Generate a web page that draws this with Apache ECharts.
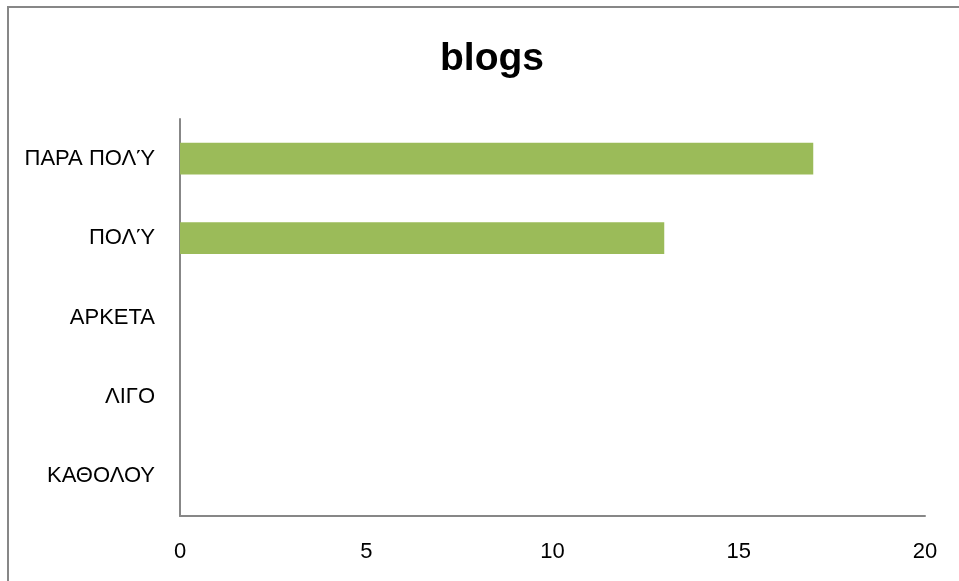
<!DOCTYPE html>
<html>
<head>
<meta charset="utf-8">
<script src="https://cdn.jsdelivr.net/npm/echarts@6/dist/echarts.min.js"></script>
<style>
  html, body { margin: 0; padding: 0; background: #fff; }
  #chart { width: 959px; height: 581px; }
</style>
</head>
<body>
<div id="chart"></div>
<script>
// Response categories, bottom to top
const categories = ['ΚΑΘΟΛΟΥ', 'ΛΙΓΟ', 'ΑΡΚΕΤΑ', 'ΠΟΛΎ', 'ΠΑΡΑ ΠΟΛΎ'];
// Number of answers per category
const counts = [0, 0, 0, 13, 17];
// Value axis ticks
const xTicks = [0, 5, 10, 15, 20];

const chart = echarts.init(document.getElementById('chart'), null, { renderer: 'canvas' });

const labelFont = { fontFamily: 'Liberation Sans, Arial, sans-serif', fontSize: 22, color: '#000' };

chart.setOption({
  animation: false,
  backgroundColor: '#fff',
  title: {
    text: 'blogs',
    left: 487,
    textAlign: 'center',
    top: 35,
    textStyle: { fontFamily: 'Liberation Sans, Arial, sans-serif', fontWeight: 'bold', fontSize: 39, color: '#000' }
  },
  graphic: [{
    type: 'rect',
    shape: { x: 8, y: 7, width: 1000, height: 1000 },
    style: { fill: 'none', stroke: '#878787', lineWidth: 2 },
    silent: true
  }],
  grid: { left: 180, right: 34, top: 119, bottom: 65, containLabel: false },
  xAxis: {
    type: 'value',
    min: xTicks[0],
    max: xTicks[xTicks.length - 1],
    interval: xTicks[1] - xTicks[0],
    axisLine: { show: true, lineStyle: { color: '#878787', width: 2 } },
    axisTick: { show: false },
    splitLine: { show: false },
    axisLabel: Object.assign({ margin: 25 }, labelFont)
  },
  yAxis: {
    type: 'category',
    data: categories,
    axisLine: { show: true, lineStyle: { color: '#878787', width: 2 } },
    axisTick: { show: false },
    axisLabel: Object.assign({ margin: 25 }, labelFont)
  },
  series: [{
    type: 'bar',
    data: counts,
    barWidth: '40%',
    itemStyle: { color: '#9BBB59', borderWidth: 0 }
  }]
});
</script>
</body>
</html>
